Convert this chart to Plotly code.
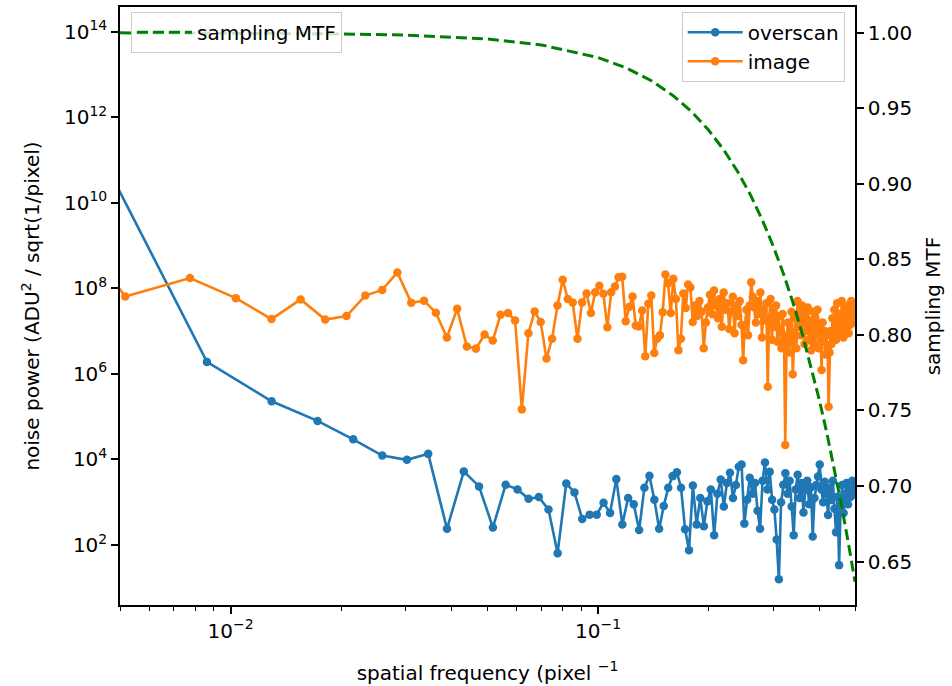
import numpy as np
import plotly.graph_objects as go

# ---- data ----
N_OVERSCAN = 232   # number of samples behind the overscan spectrum
N_IMAGE = 387      # number of samples behind the image spectrum

# log10 of noise power, overscan spectrum, for k = 1 .. 116
overscan_log10_power = [
    11.33, 6.28, 5.36, 4.90, 4.47, 4.09, 3.99, 4.13, 2.38, 3.72,
    3.37, 2.41, 3.41, 3.30, 3.08, 3.12, 2.83, 1.81, 3.44, 3.23,
    2.61, 2.71, 2.71, 2.99, 2.75, 3.54, 2.48, 3.10, 2.95, 2.35,
    3.34, 3.62, 3.06, 2.38, 2.91, 3.34, 3.61, 3.70, 3.34, 2.37,
    1.88, 3.39, 2.48, 3.10, 2.44, 3.02, 3.30, 2.23, 3.20, 3.53,
    2.90, 3.45, 3.69, 3.10, 3.40, 3.83, 3.88, 2.50, 3.06, 3.57,
    3.20, 3.45, 2.80, 2.38, 3.50, 3.93, 3.30, 3.71, 3.06, 2.83,
    2.13, 1.20, 3.00, 3.41, 3.68, 3.20, 3.50, 2.90, 2.23, 3.30,
    3.64, 3.10, 3.45, 2.76, 3.29, 3.50, 2.95, 3.35, 2.20, 3.10,
    3.40, 3.60, 3.88, 3.30, 3.00, 3.48, 3.20, 2.70, 3.34, 3.05,
    3.50, 2.85, 2.30, 3.13, 1.53, 2.90, 3.40, 2.75, 3.20, 3.45,
    2.95, 3.30, 3.13, 3.50, 3.25, 3.45,
]

# log10 of noise power, image spectrum, for k = 1 .. 193
image_log10_power = [
    11.28, 7.81, 8.24, 7.77, 7.28, 7.74, 7.27, 7.35, 7.83, 7.96,
    8.37, 7.66, 7.71, 7.43, 6.85, 7.52, 6.64, 6.59, 6.92, 6.78,
    7.38, 7.42, 7.25, 5.17, 6.95, 7.46, 7.21, 6.36, 6.82, 7.60,
    8.20, 7.75, 7.67, 6.82, 7.67, 7.88, 7.42, 7.91, 8.06, 7.87,
    7.09, 7.91, 8.04, 8.26, 8.27, 7.23, 7.56, 7.81, 7.13, 7.11,
    7.48, 6.41, 7.64, 7.83, 6.49, 6.82, 6.90, 7.44, 8.32, 8.12,
    7.42, 8.22, 7.75, 6.55, 6.82, 7.88, 7.54, 8.09, 8.02, 7.21,
    7.60, 7.35, 7.70, 7.45, 6.60, 7.20, 7.55, 7.85, 7.40, 7.95,
    7.60, 7.30, 7.75, 7.10, 7.90, 7.50, 7.65, 7.05, 7.45, 7.80,
    6.95, 7.60, 7.35, 7.70, 7.15, 6.32, 7.10, 7.50, 6.90, 7.60,
    8.14, 7.80, 7.55, 7.20, 7.70, 7.40, 7.90, 6.85, 7.50, 7.25,
    7.65, 5.70, 7.30, 7.75, 6.80, 7.45, 7.10, 7.60, 6.75, 7.35,
    7.00, 6.60, 7.40, 6.90, 4.34, 6.70, 7.20, 6.50, 7.00, 7.45,
    5.99, 6.80, 7.30, 6.60, 7.70, 7.10, 7.50, 6.90, 7.60, 7.20,
    6.70, 7.40, 7.00, 7.55, 6.80, 7.25, 6.55, 7.10, 7.45, 6.70,
    7.30, 6.90, 7.50, 6.60, 7.05, 6.80, 6.09, 7.20, 6.75, 7.00,
    6.45, 6.90, 6.60, 5.23, 6.50, 7.00, 6.70, 7.30, 6.85, 7.50,
    7.10, 6.80, 7.65, 7.20, 6.90, 7.40, 7.00, 7.70, 7.25, 6.85,
    7.45, 7.10, 7.60, 7.05, 7.35, 6.95, 7.50, 7.15, 7.70, 7.30,
    7.55, 7.20, 7.45,
]

# sampling MTF curve (right axis)
mtf_freq = [0.005, 0.01, 0.02, 0.03, 0.05, 0.07, 0.10, 0.12, 0.14, 0.16,
            0.18, 0.20, 0.22, 0.24, 0.26, 0.28, 0.30, 0.32, 0.34, 0.36,
            0.38, 0.40, 0.42, 0.44, 0.46, 0.48, 0.50]
mtf_value = [1.0000, 0.9998, 0.9993, 0.9985, 0.9959, 0.9920, 0.9836, 0.9765,
             0.9681, 0.9584, 0.9476, 0.9355, 0.9223, 0.9079, 0.8925, 0.8759,
             0.8584, 0.8399, 0.8204, 0.8000, 0.7788, 0.7568, 0.7341, 0.7106,
             0.6865, 0.6618, 0.6366]

x_major_ticks = [0.01, 0.1]
x_major_labels = ["10<sup>\u22122</sup>", "10<sup>\u22121</sup>"]
x_minor_ticks = [0.005, 0.006, 0.007, 0.008, 0.009,
                 0.02, 0.03, 0.04, 0.05, 0.06, 0.07, 0.08, 0.09,
                 0.2, 0.3, 0.4, 0.5]
y_exponents = [2, 4, 6, 8, 10, 12, 14]
y2_ticks = [0.65, 0.70, 0.75, 0.80, 0.85, 0.90, 0.95, 1.00]

# ---- figure ----
overscan_freq = np.arange(1, len(overscan_log10_power) + 1) / N_OVERSCAN
image_freq = np.arange(1, len(image_log10_power) + 1) / N_IMAGE

BLUE = "#1f77b4"
ORANGE = "#ff7f0e"
GREEN = "#008000"
FONT = "DejaVu Sans"

fig = go.Figure()
fig.add_trace(go.Scatter(
    x=overscan_freq, y=10.0 ** np.array(overscan_log10_power),
    mode="lines+markers", name="overscan", showlegend=True,
    line=dict(color=BLUE, width=2.6), marker=dict(size=8.5, color=BLUE),
    legend="legend2"))
fig.add_trace(go.Scatter(
    x=image_freq, y=10.0 ** np.array(image_log10_power),
    mode="lines+markers", name="image", showlegend=True,
    line=dict(color=ORANGE, width=2.6), marker=dict(size=8.5, color=ORANGE),
    legend="legend2"))
fig.add_trace(go.Scatter(
    x=mtf_freq, y=mtf_value, mode="lines", name="sampling MTF",
    showlegend=True,
    line=dict(color=GREEN, width=3, dash="11px,5px"),
    yaxis="y2", legend="legend"))

axis_common = dict(showgrid=False, zeroline=False, showline=True,
                   linecolor="black", linewidth=1.5, ticks="outside",
                   ticklen=7, tickwidth=1.5, tickcolor="black",
                   tickfont=dict(family=FONT, size=20, color="black"))

legend_common = dict(bgcolor="rgba(255,255,255,0.8)", bordercolor="#cccccc",
                     borderwidth=1, font=dict(family=FONT, size=20),
                     itemwidth=55, visible=True)

fig.update_layout(
    width=952, height=686,
    margin=dict(l=120, r=97, t=5, b=80),
    paper_bgcolor="white", plot_bgcolor="white",
    showlegend=True,
    font=dict(family=FONT, size=20, color="black"),
    xaxis=dict(type="log", range=[np.log10(0.005), np.log10(0.5)],
               tickvals=x_major_ticks, ticktext=x_major_labels, mirror=True,
               minor=dict(tickvals=x_minor_ticks, ticks="outside", ticklen=4,
                          tickwidth=1.2, tickcolor="black", showgrid=False),
               title=dict(text="spatial frequency (pixel <sup>\u22121</sup>",
                          font=dict(family=FONT, size=20), standoff=24),
               **axis_common),
    yaxis=dict(type="log", range=[0.598, 14.574],
               tickvals=[10.0 ** e for e in y_exponents],
               ticktext=["10<sup>%d</sup>" % e for e in y_exponents],
               mirror=True,
               title=dict(text="noise power (ADU<sup>2</sup> / sqrt(1/pixel)",
                          font=dict(family=FONT, size=20), standoff=19),
               **axis_common),
    yaxis2=dict(overlaying="y", side="right", range=[0.6212, 1.0171],
                tickvals=y2_ticks, ticktext=["%.2f" % v for v in y2_ticks],
                title=dict(text="sampling MTF", font=dict(family=FONT, size=20),
                           standoff=15),
                **axis_common),
    legend=dict(x=0.015, y=0.992, xanchor="left", yanchor="top",
                **legend_common),
    legend2=dict(x=0.986, y=0.992, xanchor="right", yanchor="top",
                 **legend_common),
)

fig.write_html("out.html", config={"displayModeBar": False},
               post_script="document.body.style.margin='0';")
